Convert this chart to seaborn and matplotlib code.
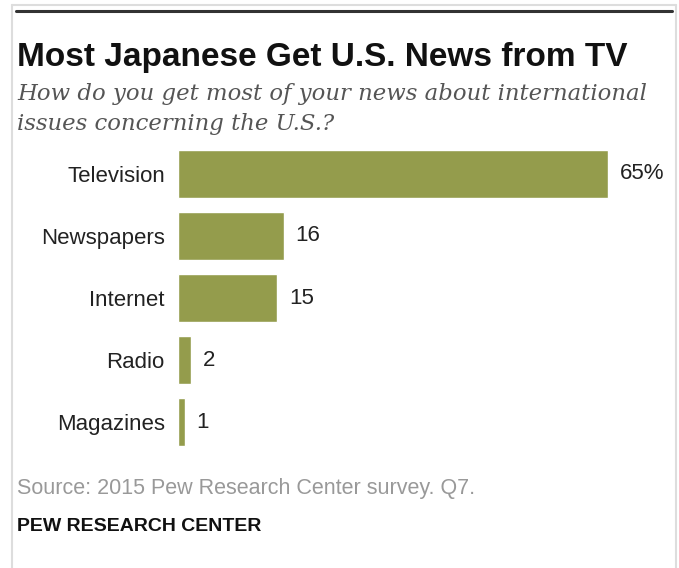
import matplotlib
matplotlib.use("Agg")
import matplotlib.pyplot as plt
from matplotlib import font_manager
from matplotlib.lines import Line2D
import seaborn as sns
import pandas as pd

# Survey data
categories = ["Television", "Newspapers", "Internet", "Radio", "Magazines"]
values = [65, 16, 15, 2, 1]
value_labels = ["65%", "16", "15", "2", "1"]

title = "Most Japanese Get U.S. News from TV"
subtitle = "How do you get most of your news about international\nissues concerning the U.S.?"
source = "Source: 2015 Pew Research Center survey. Q7."
credit = "PEW RESEARCH CENTER"

names = {f.name for f in font_manager.fontManager.ttflist}
narrow = "Liberation Sans Narrow" if "Liberation Sans Narrow" in names else "Liberation Sans"

sns.set_theme(style="white")
plt.rcParams["font.family"] = [narrow, "DejaVu Sans"]

W, H = 679, 568
fig = plt.figure(figsize=(W / 100, H / 100), dpi=100)


def fx(px):
    return px / W


def fy(py):
    return 1 - py / H


# Outer frame and heavy top rule
fig.add_artist(Line2D([fx(12), fx(12)], [fy(5), 0], color="#dddddd", lw=1.5))
fig.add_artist(Line2D([fx(675.5), fx(675.5)], [fy(5), 0], color="#dddddd", lw=1.5))
fig.add_artist(Line2D([fx(12), fx(675.5)], [fy(5), fy(5)], color="#dddddd", lw=1.5))
fig.add_artist(Line2D([fx(16), fx(672)], [fy(10.5), fy(10.5)], color="#333333", lw=2.2))

# Headings
fig.text(fx(17), fy(66), title, fontsize=24, fontweight="bold", color="#111111",
         family=[narrow, "DejaVu Sans"], va="baseline")
serif = ["DejaVu Serif", "Liberation Serif"]
fig.text(fx(17), fy(100), subtitle.split("\n")[0], fontsize=16.4, style="italic",
         color="#555555", family=serif, va="baseline")
fig.text(fx(17), fy(130), subtitle.split("\n")[1], fontsize=16.4, style="italic",
         color="#555555", family=serif, va="baseline")

# Bar chart
df = pd.DataFrame({"category": categories, "value": values})
ax = fig.add_axes([fx(178), fy(453), fx(641) - fx(178), (453 - 143) / H])
sns.barplot(data=df, x="value", y="category", order=categories, color="#949c4c",
            saturation=1, width=0.77, ax=ax)
ax.set_xlim(0, 70)
ax.set_ylim(len(categories) - 0.5, -0.5)
ax.set_xlabel("")
ax.set_ylabel("")
ax.set_xticks([])
for s in ax.spines.values():
    s.set_visible(False)
ax.tick_params(axis="y", length=0, pad=9.5, labelsize=16, labelcolor="#222222")
for i, (v, lab) in enumerate(zip(values, value_labels)):
    ax.annotate(lab, (v, i), xytext=(8.5, 0), textcoords="offset points",
                va="center", ha="left", fontsize=16, color="#222222")
ax.patch.set_alpha(0)

# Footer
fig.text(fx(17), fy(494), source, fontsize=15.5, color="#999999", va="baseline")
fig.text(fx(17), fy(531), credit, fontsize=14, fontweight="bold", color="#111111",
         va="baseline")

fig.savefig("out.png", dpi=100, facecolor="white")
